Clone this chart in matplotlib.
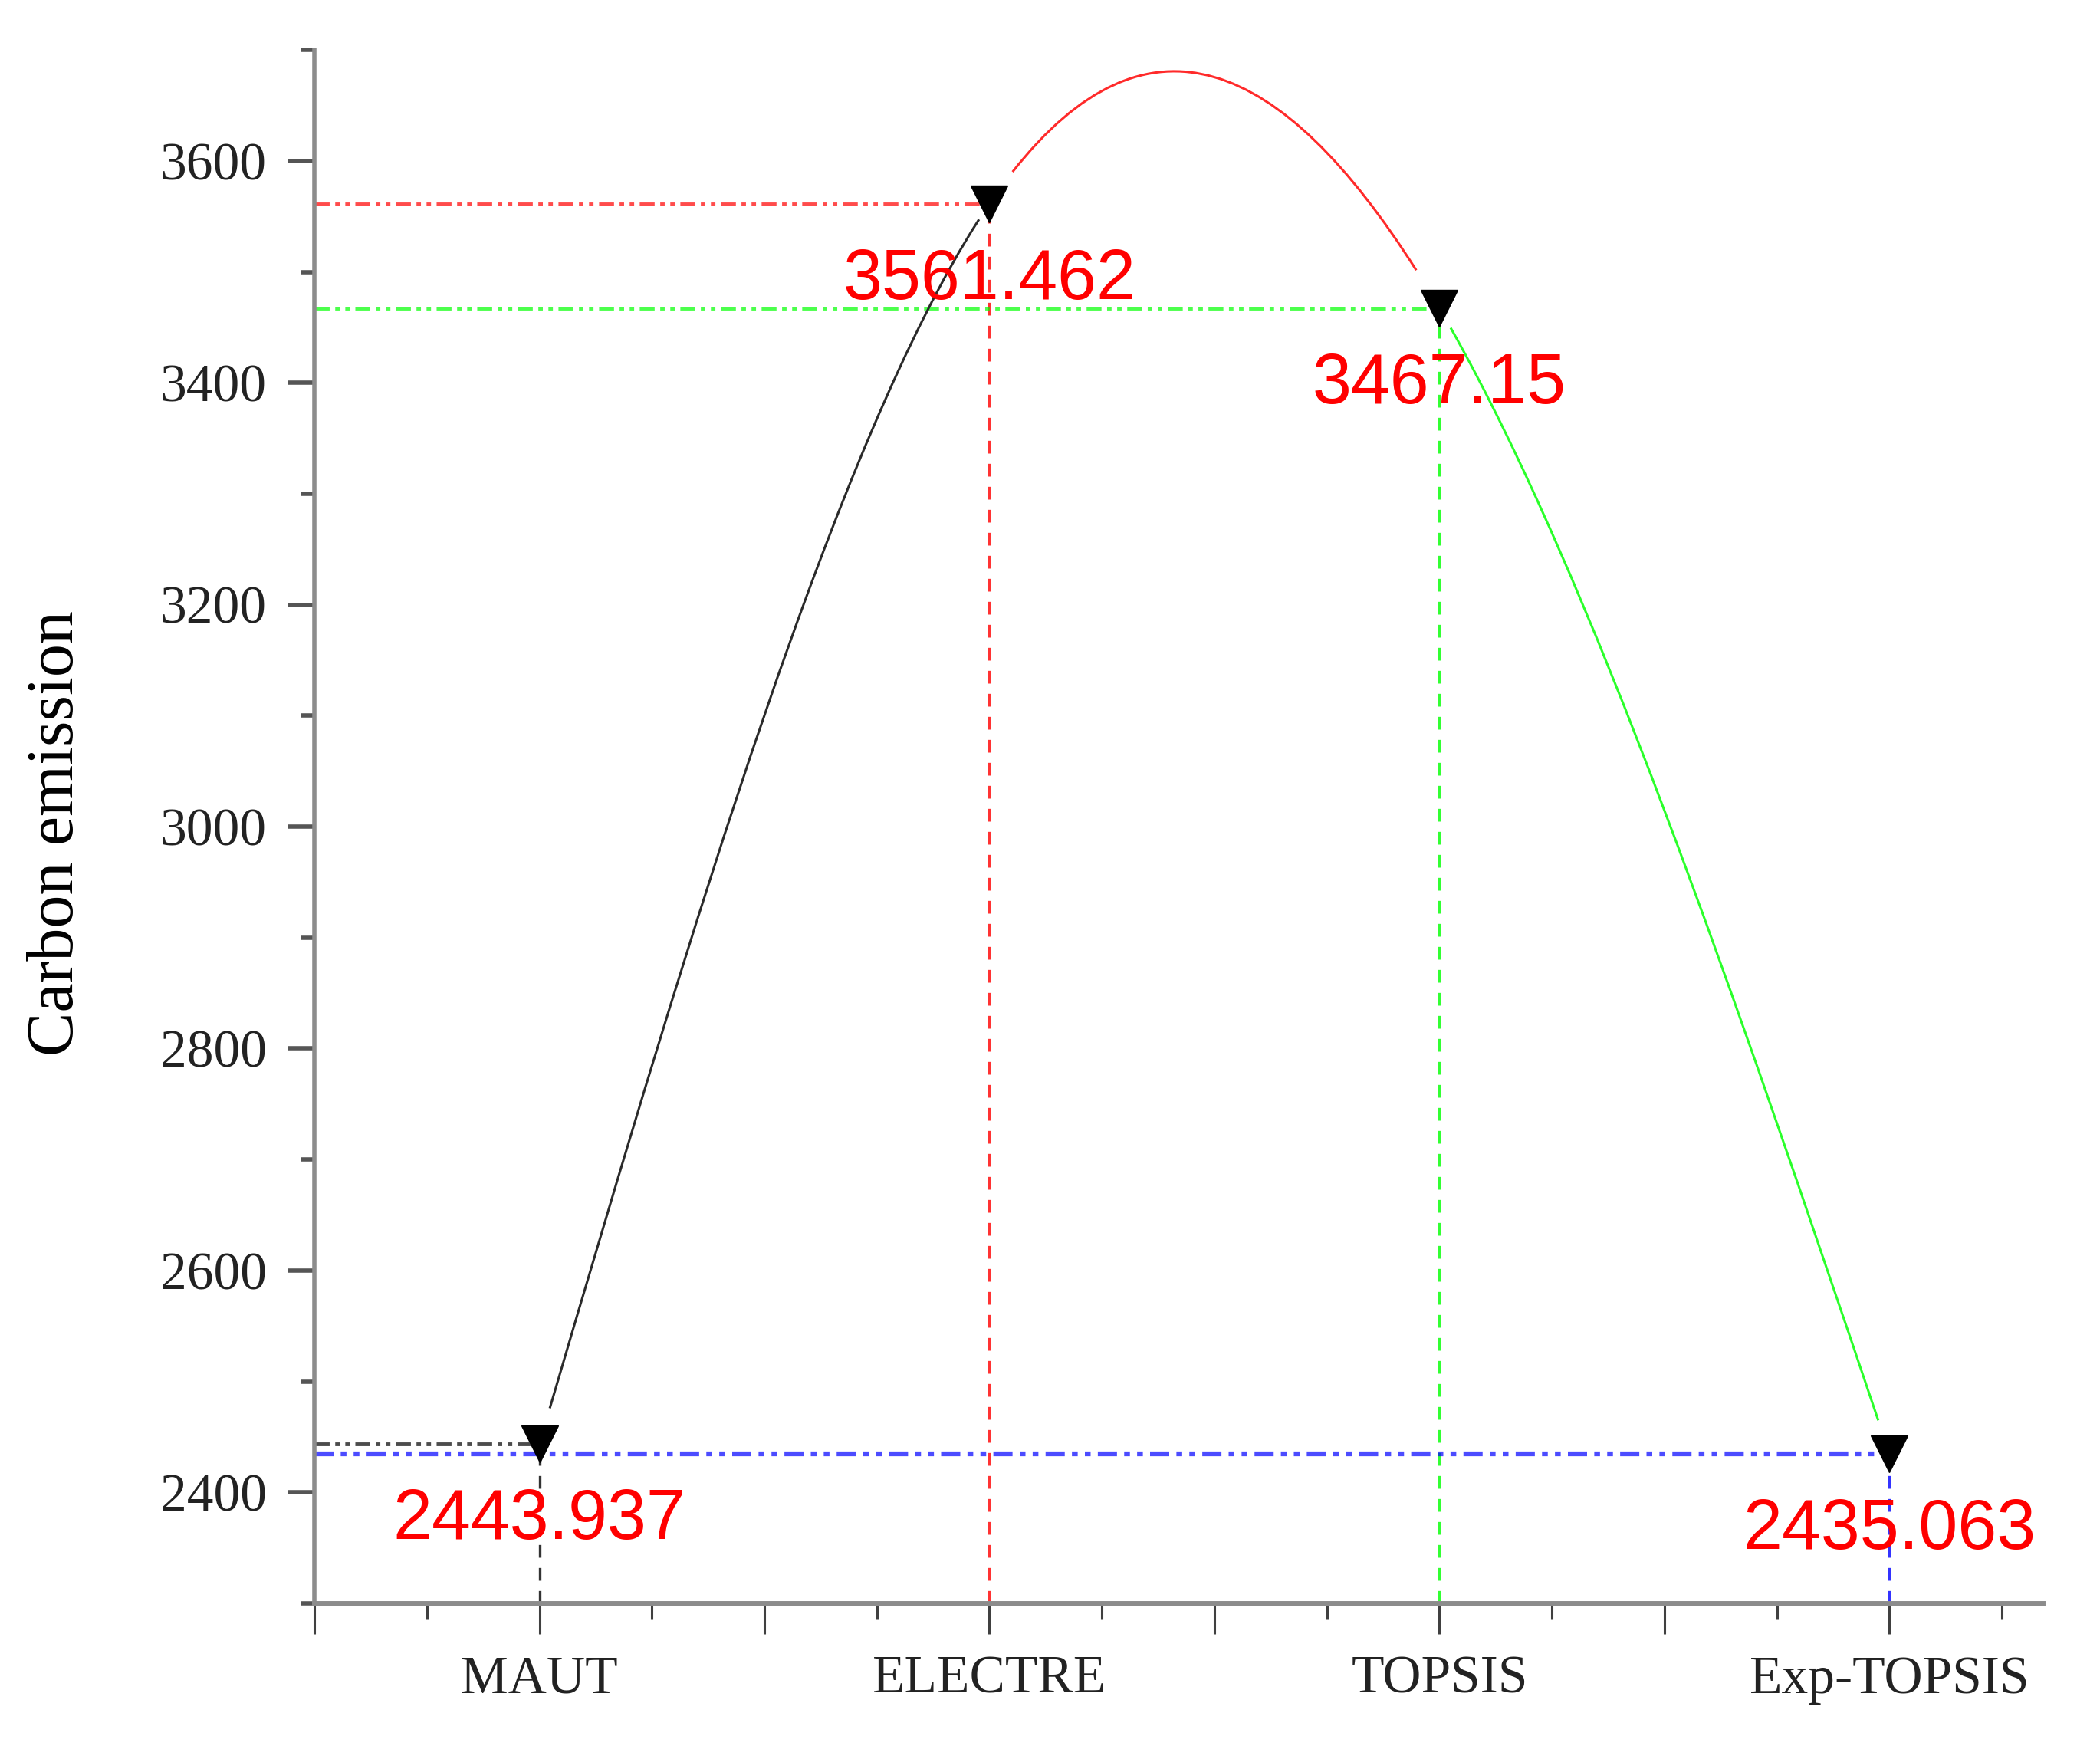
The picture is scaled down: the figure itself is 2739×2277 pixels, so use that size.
import numpy as np
import matplotlib
matplotlib.use("Agg")
import matplotlib.pyplot as plt
from matplotlib.path import Path
from matplotlib.patches import PathPatch
from matplotlib.ticker import MultipleLocator, FuncFormatter

# data
methods = ["MAUT", "ELECTRE", "TOPSIS", "Exp-TOPSIS"]
emission = [2443.937, 3561.462, 3467.15, 2435.063]
value_labels = ["2443.937", "3561.462", "3467.15", "2435.063"]
drop_colors = ["#000000", "#ff0000", "#00ff00", "#0000ff"]
curve_colors = ["#2a2a2a", "#ff2a2a", "#2aff2a"]

plt.rcParams['font.family'] = ['Liberation Serif', 'DejaVu Serif']

fig = plt.figure(figsize=(27.39, 22.77), dpi=100)
ax = fig.add_axes([0.1497, 0.0817, 0.9726 - 0.1497, 0.9714 - 0.0817])
ax.set_xlim(0.5, 4.34)
ax.set_ylim(2300, 3700)

x = np.arange(1, len(emission) + 1, dtype=float)
y = np.array(emission)

# natural cubic spline (Origin "spline" connection), drawn as bezier segments
n = len(y)
A = np.zeros((n - 2, n - 2))
b = np.zeros(n - 2)
for i in range(1, n - 1):
    A[i - 1, i - 1] = 4
    if i > 1:
        A[i - 1, i - 2] = 1
    if i < n - 2:
        A[i - 1, i] = 1
    b[i - 1] = 6 * (y[i - 1] - 2 * y[i] + y[i + 1])
M = np.zeros(n)
M[1:-1] = np.linalg.solve(A, b)


def split(P, t):
    P = np.asarray(P)
    a = P[:-1] + t * (P[1:] - P[:-1])
    b2 = a[:-1] + t * (a[1:] - a[:-1])
    c = b2[:-1] + t * (b2[1:] - b2[:-1])
    left = np.array([P[0], a[0], b2[0], c[0]])
    right = np.array([c[0], b2[1], a[2], P[3]])
    return left, right


gap_px = 40
for i in range(n - 1):
    d = y[i + 1] - y[i]
    s0 = d - (2 * M[i] + M[i + 1]) / 6
    s1 = d + (M[i] + 2 * M[i + 1]) / 6
    P = np.array([[x[i], y[i]],
                  [x[i] + 1 / 3, y[i] + s0 / 3],
                  [x[i + 1] - 1 / 3, y[i + 1] - s1 / 3],
                  [x[i + 1], y[i + 1]]])
    pix = ax.transData.transform(P)
    length = 0.5 * (np.sum(np.hypot(*np.diff(pix, axis=0).T)) + np.hypot(*(pix[3] - pix[0])))
    tg = gap_px / length
    left, _ = split(P, 1 - tg)
    _, seg = split(left, tg / (1 - tg))
    path = Path(seg, [Path.MOVETO, Path.CURVE4, Path.CURVE4, Path.CURVE4])
    ax.add_patch(PathPatch(path, fill=False, edgecolor=curve_colors[i], lw=2.2, zorder=3))

# drop lines to the axes
for xi, yi, col in zip(x, y, drop_colors):
    ax.plot([0.5, xi], [yi, yi], color=col, lw=3.5 if col != "#0000ff" else 4.5,
            linestyle=(0, (4, 1.5, 1.2, 1.5, 1.2, 1.5)), alpha=0.7, zorder=2)
    ax.plot([xi, xi], [2300, yi], color=col, lw=2.4,
            linestyle=(0, (5, 4)), alpha=0.8, zorder=2)

ax.plot(x, y, linestyle='none', marker='v', markersize=34, color='black', zorder=5)

for xi, yi, lbl in zip(x, y, value_labels):
    ax.annotate(lbl, (xi, yi), xytext=(0, -72), textcoords='offset points',
                ha='center', va='center', color='#ff0000', fontsize=66,
                family=['Liberation Sans', 'DejaVu Sans'], zorder=6)

# axes styling
for s in ['top', 'right']:
    ax.spines[s].set_visible(False)
ax.spines['left'].set_color('#8c8c8c')
ax.spines['left'].set_linewidth(4)
ax.spines['bottom'].set_color('#8c8c8c')
ax.spines['bottom'].set_linewidth(5)

ax.xaxis.set_major_locator(MultipleLocator(0.5))
ax.xaxis.set_minor_locator(MultipleLocator(0.25))
ax.xaxis.set_major_formatter(FuncFormatter(
    lambda v, p: methods[int(round(v)) - 1] if abs(v - round(v)) < 1e-6 and 1 <= round(v) <= 4 else ""))
ax.yaxis.set_major_locator(MultipleLocator(200))
ax.yaxis.set_minor_locator(MultipleLocator(100))

ax.tick_params(axis='x', which='major', direction='out', length=29, width=2.2,
               color='#404040', labelsize=50, pad=20, labelcolor='#222222')
ax.tick_params(axis='x', which='minor', direction='out', length=15, width=2.2, color='#404040')
ax.tick_params(axis='y', which='major', direction='out', length=25, width=4,
               color='#555555', labelsize=50, pad=20, labelcolor='#222222')
ax.tick_params(axis='y', which='minor', direction='out', length=13, width=4, color='#555555')

ax.set_ylabel('Carbon emission', fontsize=62)
ax.yaxis.set_label_coords(-0.1315, 0.496)

fig.savefig('out.png', dpi=100)
